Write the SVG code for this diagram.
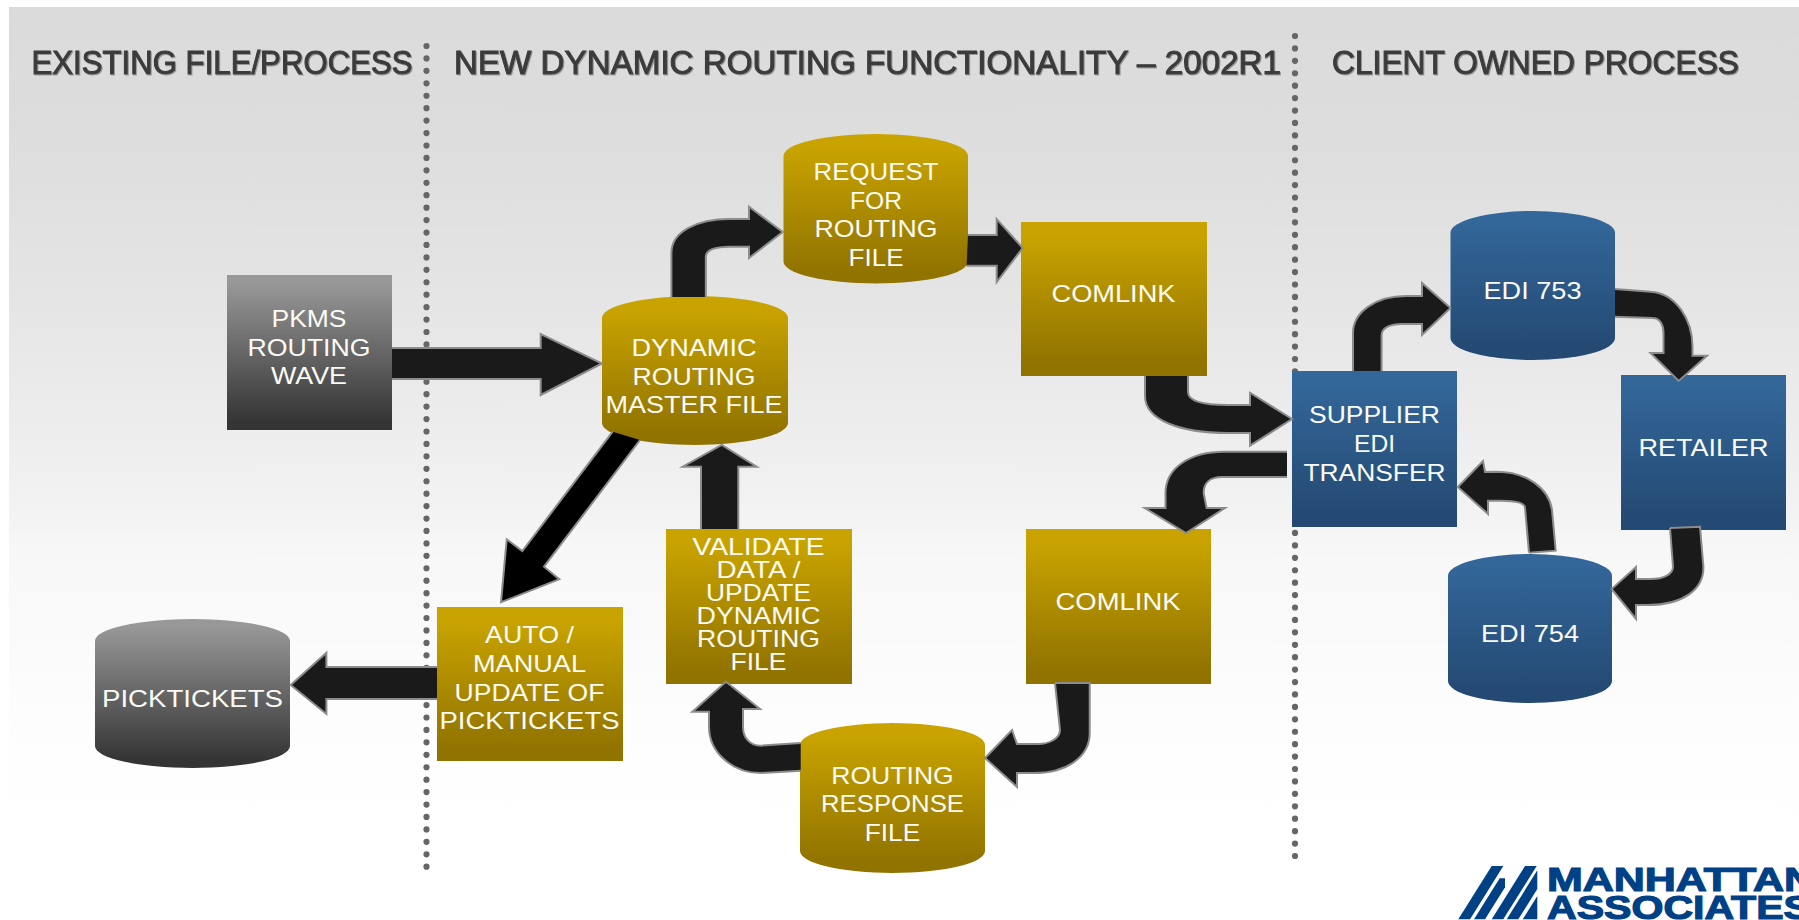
<svg xmlns="http://www.w3.org/2000/svg" width="1799" height="920" viewBox="0 0 1799 920">
<style>
.lbl{font-family:"Liberation Sans",Arial,sans-serif;font-size:24px;fill:#fbfbf5;text-anchor:middle}
.ttl{font-family:"Liberation Sans",Arial,sans-serif;font-size:34px;fill:#3b3b3b;stroke:#3b3b3b;stroke-width:1.1px;filter:url(#ts)}
.gold{fill:url(#gGold)}.blue{fill:url(#gBlue)}.gray{fill:url(#gGray)}
.arr{fill:#1a1a1a;stroke:#8c8c8c;stroke-width:2;stroke-linejoin:miter}
.blk{fill:#000}
.dots{fill:none;stroke:#666;stroke-width:6.2;stroke-linecap:round}
.logo{font-family:"Liberation Sans",Arial,sans-serif;font-weight:bold;font-size:34px;fill:#004085;stroke:#004085;stroke-width:1.2px}
.mark{fill:#004085}
</style>
<defs>
<linearGradient id="gBg" x1="0" y1="0" x2="0" y2="1">
<stop offset="0" stop-color="#dbdbdb"/><stop offset=".14" stop-color="#dddddd"/><stop offset=".3" stop-color="#e4e4e4"/><stop offset=".48" stop-color="#eeeeee"/><stop offset=".57" stop-color="#f4f4f4"/><stop offset=".585" stop-color="#f7f7f7"/><stop offset=".78" stop-color="#fdfdfd"/><stop offset=".9" stop-color="#ffffff"/>
</linearGradient>
<linearGradient id="gGold" x1="0" y1="0" x2="0" y2="1"><stop offset=".08" stop-color="#c9a400"/><stop offset=".92" stop-color="#917300"/></linearGradient>
<linearGradient id="gBlue" x1="0" y1="0" x2="0" y2="1"><stop offset=".08" stop-color="#336699"/><stop offset=".92" stop-color="#244a73"/></linearGradient>
<linearGradient id="gGray" x1="0" y1="0" x2="0" y2="1"><stop offset=".05" stop-color="#989898"/><stop offset=".95" stop-color="#343434"/></linearGradient>
<filter id="ts" x="-5%" y="-20%" width="110%" height="150%"><feDropShadow dx="1" dy="1" stdDeviation=".6" flood-color="#9a9a9a"/></filter>
</defs>
<rect width="1799" height="920" fill="#ffffff"/>
<rect x="9" y="7" width="1790" height="913" fill="url(#gBg)"/>

<g id="dividers">
<path class="dots" stroke-dasharray="0 12.435" d="M426.500 46V868"/>
<path class="dots" stroke-dasharray="0 12.424" d="M1295 36V857"/>
</g>

<g id="titles">
<text class="ttl" x="31.500" y="74" textLength="381" lengthAdjust="spacingAndGlyphs">EXISTING FILE/PROCESS</text>
<text class="ttl" x="454" y="74" textLength="827" lengthAdjust="spacingAndGlyphs">NEW DYNAMIC ROUTING FUNCTIONALITY – 2002R1</text>
<text class="ttl" x="1332" y="74" textLength="407" lengthAdjust="spacingAndGlyphs">CLIENT OWNED PROCESS</text>
</g>

<g id="n-pkms"><rect class="gray" x="227" y="275" width="165" height="155"/>
<text class="lbl" lengthAdjust="spacingAndGlyphs" x="309" y="327" textLength="75">PKMS</text><text class="lbl" lengthAdjust="spacingAndGlyphs" x="309" y="356" textLength="123">ROUTING</text><text class="lbl" lengthAdjust="spacingAndGlyphs" x="309" y="384" textLength="76">WAVE</text></g>

<g id="n-picktickets"><path class="gray" d="M95 641A97.500 22 0 0 1 290 641V746A97.500 22 0 0 1 95 746Z"/>
<text class="lbl" lengthAdjust="spacingAndGlyphs" x="192.500" y="707" textLength="181">PICKTICKETS</text></g>

<g id="n-dynamic"><path class="gold" d="M602 318A93 22 0 0 1 788 318V423A93 22 0 0 1 602 423Z"/>
<text class="lbl" lengthAdjust="spacingAndGlyphs" x="694" y="356" textLength="125">DYNAMIC</text><text class="lbl" lengthAdjust="spacingAndGlyphs" x="694" y="385" textLength="123">ROUTING</text><text class="lbl" lengthAdjust="spacingAndGlyphs" x="694" y="413" textLength="177">MASTER FILE</text></g>

<g id="n-request"><path class="gold" d="M783.500 156A92.250 22 0 0 1 968 156V261.500A92.250 22 0 0 1 783.500 261.500Z"/>
<text class="lbl" lengthAdjust="spacingAndGlyphs" x="876" y="180" textLength="125">REQUEST</text><text class="lbl" lengthAdjust="spacingAndGlyphs" x="876" y="209" textLength="52">FOR</text><text class="lbl" lengthAdjust="spacingAndGlyphs" x="876" y="237" textLength="123">ROUTING</text><text class="lbl" lengthAdjust="spacingAndGlyphs" x="876" y="266" textLength="55">FILE</text></g>

<g id="n-comlink1"><rect class="gold" x="1021" y="222" width="186" height="154"/>
<text class="lbl" lengthAdjust="spacingAndGlyphs" x="1113.500" y="302" textLength="124">COMLINK</text></g>

<g id="n-auto"><rect class="gold" x="437" y="607" width="186" height="154"/>
<text class="lbl" lengthAdjust="spacingAndGlyphs" x="529.500" y="643" textLength="89">AUTO /</text><text class="lbl" lengthAdjust="spacingAndGlyphs" x="529.500" y="672" textLength="113">MANUAL</text><text class="lbl" lengthAdjust="spacingAndGlyphs" x="529.500" y="701" textLength="150">UPDATE OF</text><text class="lbl" lengthAdjust="spacingAndGlyphs" x="529.500" y="729" textLength="180">PICKTICKETS</text></g>

<g id="n-validate"><rect class="gold" x="666" y="529" width="186" height="155"/>
<text class="lbl" lengthAdjust="spacingAndGlyphs" x="758.500" y="555" textLength="132">VALIDATE</text><text class="lbl" lengthAdjust="spacingAndGlyphs" x="758.500" y="578" textLength="84">DATA /</text><text class="lbl" lengthAdjust="spacingAndGlyphs" x="758.500" y="601" textLength="105">UPDATE</text><text class="lbl" lengthAdjust="spacingAndGlyphs" x="758.500" y="624" textLength="124">DYNAMIC</text><text class="lbl" lengthAdjust="spacingAndGlyphs" x="758.500" y="647" textLength="123">ROUTING</text><text class="lbl" lengthAdjust="spacingAndGlyphs" x="758.500" y="670" textLength="56">FILE</text></g>

<g id="n-comlink2"><rect class="gold" x="1026" y="529" width="185" height="155"/>
<text class="lbl" lengthAdjust="spacingAndGlyphs" x="1118" y="610" textLength="125">COMLINK</text></g>

<g id="n-response"><path class="gold" d="M800 745A92.500 22 0 0 1 985 745V851A92.500 22 0 0 1 800 851Z"/>
<text class="lbl" lengthAdjust="spacingAndGlyphs" x="892.500" y="784" textLength="122.500">ROUTING</text><text class="lbl" lengthAdjust="spacingAndGlyphs" x="892.500" y="812" textLength="143">RESPONSE</text><text class="lbl" lengthAdjust="spacingAndGlyphs" x="892.500" y="841" textLength="55.500">FILE</text></g>

<g id="n-supplier"><rect class="blue" x="1292" y="371" width="165" height="156"/>
<text class="lbl" lengthAdjust="spacingAndGlyphs" x="1374.500" y="423" textLength="131">SUPPLIER</text><text class="lbl" lengthAdjust="spacingAndGlyphs" x="1374.500" y="452" textLength="41">EDI</text><text class="lbl" lengthAdjust="spacingAndGlyphs" x="1374.500" y="481" textLength="142">TRANSFER</text></g>

<g id="n-edi753"><path class="blue" d="M1450.500 233A82.250 22 0 0 1 1615 233V338A82.250 22 0 0 1 1450.500 338Z"/>
<text class="lbl" lengthAdjust="spacingAndGlyphs" x="1532.500" y="299" textLength="98">EDI 753</text></g>

<g id="n-retailer"><rect class="blue" x="1621" y="375" width="165" height="155"/>
<text class="lbl" lengthAdjust="spacingAndGlyphs" x="1703.500" y="456" textLength="130">RETAILER</text></g>

<g id="n-edi754"><path class="blue" d="M1448 576A82 22 0 0 1 1612 576V681A82 22 0 0 1 1448 681Z"/>
<text class="lbl" lengthAdjust="spacingAndGlyphs" x="1530" y="642" textLength="98">EDI 754</text></g>

<g id="connectors">
<path class="arr" d="M392 348H540.700V334L602 363.500L540.700 395V379H392"/>
<path class="arr" d="M671.400 297V253C671.400 232 696 219 730 219H749V206.700L782.700 232L749 258V246.700H730C715 246.700 705.800 250 705.800 257V297"/>
<path class="arr" d="M968 235H996.700V219L1022.700 248L996.700 282V265.700H966.600"/>
<path class="arr" d="M1145 376V396C1145 420 1180 433 1228 433H1250V445.700L1292 419L1250 392.700V405H1228C1205 405 1188 402 1188 392V376"/>
<path class="arr" d="M1287 451.700H1224C1190 451.700 1165.500 468 1165.500 493V508H1144.700L1186 533L1225 508H1206.600L1203.600 493C1203.600 483 1210 477 1222 477H1287"/>
<path class="arr" d="M1353 371V333C1353 312 1376 296 1406 296H1422V283L1450.500 308L1422 335V324H1401.500C1390 324 1381.600 328 1381.600 335V371"/>
<path class="arr" d="M1615 289L1650.500 291.700C1676 293 1692.500 320 1692.500 346.700V355.700H1707L1678.700 381L1650.500 353H1663.500V333C1663.500 325 1660 318 1652.700 318L1615 316.700"/>
<path class="arr" d="M1670 528L1700 526.700L1703.400 566.700C1704 590 1682 605 1648 605H1636V619L1611.600 589L1636 567V579H1650.500C1664 579 1673 574 1673 566.700L1670 528"/>
<path class="arr" d="M1529 552.700L1555.700 550.700L1552 510C1549 488 1526 471.700 1496.800 471.700L1485 472L1483 461L1457.800 487L1488 514V500.700H1501C1515 500.700 1525 503 1525 508L1529 552.700"/>
<path class="arr" d="M1055 683H1089.700V733C1089.700 756 1068 773 1034 773H1017V787L985 758L1012 730L1017 744H1038C1050 744 1060 738 1060 730L1055 683"/>
<path class="arr" d="M800.700 743L760.500 745.700C750 745.700 743 738 743 726.700V709H760L726 681.700L692.400 711.700H709V726.700C709 752 732 773 760.500 773L800.700 770.700"/>
<path class="arr" d="M701 529V466.700H682.700L721.700 445L756.700 466.700H738.300V529"/>
<path class="arr blk" d="M612.700 431.700L522.300 551L506.700 539.300L501 602.300L559.300 579.300L544 566.700L640 440"/>
<path class="arr" d="M437 667H326.400V652.700L290.700 685L326.400 714V699H437"/>
</g>

<g id="logo">
<polygon class="mark" points="1491.700,866 1503.300,866 1470,919.300 1458.300,919.300"/>
<polygon class="mark" points="1499.700,878.300 1505,878.300 1505,887.300 1485,919.300 1474,919.300"/>
<polygon class="mark" points="1525,866 1536.700,866 1503.300,919.300 1491.700,919.300"/>
<polygon class="mark" points="1537.300,870.300 1537.300,889 1518.300,919.300 1506.700,919.300"/>
<polygon class="mark" points="1537.300,896 1537.300,919.300 1522.700,919.300"/>
<text class="logo" x="1547" y="890.500" textLength="268" lengthAdjust="spacingAndGlyphs">MANHATTAN</text>
<text class="logo" x="1547" y="919" textLength="264" lengthAdjust="spacingAndGlyphs">ASSOCIATES</text>
</g>
</svg>
